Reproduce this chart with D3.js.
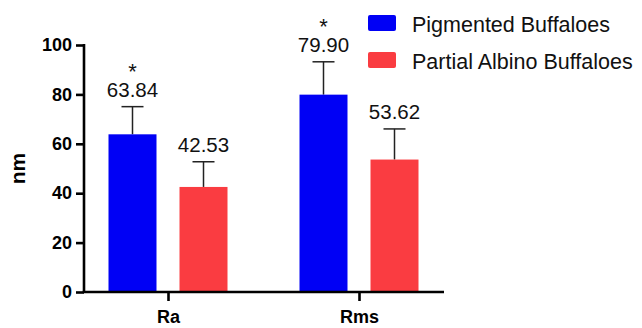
<!DOCTYPE html>
<html>
<head>
<meta charset="utf-8">
<script src="https://cdn.jsdelivr.net/npm/d3@7"></script>
<style>
  html, body { margin: 0; padding: 0; background: #fff; }
  svg { display: block; }
  text { font-family: Arial, "Liberation Sans", sans-serif; }
</style>
</head>
<body>
<svg id="chart" width="642" height="328"></svg>
<script>
// Surface roughness (nm), mean ± SD
const categories = ["Ra", "Rms"];
const seriesNames = ["Pigmented Buffaloes", "Partial Albino Buffaloes"];
const pigmented = [63.84, 79.90];
const albino = [42.53, 53.62];
const pigmentedSD = [11.2, 13.3];
const albinoSD = [10.2, 12.4];
const significant = [[true, false], [true, false]]; // per category, per series
const yTicks = [0, 20, 40, 60, 80, 100];
const colors = ["#0000f5", "#fa3c41"];

const svg = d3.select("#chart");

const axisLeft = 84, axisRight = 444;
const y = d3.scaleLinear().domain([0, 100]).range([292, 45]);
const x0 = d3.scalePoint().domain(categories).range([168, 359]);
const x1 = d3.scaleBand().domain(seriesNames).range([-59.5, 59.5]).paddingInner(0.324);

const rows = categories.map((c, i) => ({
  cat: c,
  items: [
    { name: seriesNames[0], v: pigmented[i], sd: pigmentedSD[i], sig: significant[i][0], color: colors[0] },
    { name: seriesNames[1], v: albino[i], sd: albinoSD[i], sig: significant[i][1], color: colors[1] }
  ]
}));

const g = svg.append("g");

const groups = g.selectAll("g.grp").data(rows).join("g")
  .attr("class", "grp")
  .attr("transform", d => `translate(${x0(d.cat)},0)`);

const items = groups.selectAll("g.item").data(d => d.items).join("g").attr("class", "item");
const cx = d => x1(d.name) + x1.bandwidth() / 2;

// error bars (upper whisker only)
items.append("line")
  .attr("x1", cx).attr("x2", cx)
  .attr("y1", d => y(d.v))
  .attr("y2", d => y(d.v + d.sd))
  .attr("stroke", "#222").attr("stroke-width", 1.5);
items.append("line")
  .attr("x1", d => cx(d) - 11)
  .attr("x2", d => cx(d) + 11)
  .attr("y1", d => y(d.v + d.sd))
  .attr("y2", d => y(d.v + d.sd))
  .attr("stroke", "#222").attr("stroke-width", 1.5);

// bars
items.append("rect")
  .attr("x", d => x1(d.name))
  .attr("width", x1.bandwidth())
  .attr("y", d => y(d.v))
  .attr("height", d => y(0) - y(d.v))
  .attr("fill", d => d.color);

// value labels
items.append("text")
  .attr("x", cx)
  .attr("y", d => y(d.v + d.sd) - 10)
  .attr("text-anchor", "middle")
  .attr("font-size", 20.5)
  .attr("fill", "#111")
  .text(d => d.v.toFixed(2));

// significance markers
items.filter(d => d.sig).append("text")
  .attr("x", cx)
  .attr("y", d => y(d.v + d.sd) - 10 - 18)
  .attr("text-anchor", "middle")
  .attr("font-size", 22)
  .attr("fill", "#111")
  .text("*");

// y axis
const yAxis = d3.axisLeft(y).tickValues(yTicks).tickSize(8).tickPadding(4);
const ya = svg.append("g").attr("transform", `translate(${axisLeft},0)`).call(yAxis);
ya.select(".domain").attr("stroke", "#000").attr("stroke-width", 2.6).attr("d", `M0,${y(0)}V${y(100) - 1}`);
ya.selectAll(".tick line").attr("stroke", "#000").attr("stroke-width", 2.6);
ya.selectAll(".tick text").attr("font-size", 18).attr("font-weight", "bold").attr("fill", "#000")
  .attr("font-family", "Arial, 'Liberation Sans', sans-serif");

// x axis
const xAxis = d3.axisBottom(x0).tickSize(9).tickPadding(9);
const xa = svg.append("g").attr("transform", `translate(0,${y(0)})`).call(xAxis);
xa.select(".domain").attr("stroke", "#000").attr("stroke-width", 2.6).attr("d", `M${axisLeft - 1.3},0H${axisRight}`);
xa.selectAll(".tick line").attr("stroke", "#000").attr("stroke-width", 2.6);
xa.selectAll(".tick text").attr("font-size", 18).attr("font-weight", "bold").attr("fill", "#000")
  .attr("font-family", "Arial, 'Liberation Sans', sans-serif");

// y axis title
svg.append("text")
  .attr("transform", `translate(25,${(y(0) + y(100)) / 2}) rotate(-90)`)
  .attr("text-anchor", "middle")
  .attr("font-size", 21)
  .attr("font-weight", "bold")
  .text("nm");

// legend
const legend = svg.append("g").attr("transform", "translate(368,15)");
const li = legend.selectAll("g").data(seriesNames).join("g")
  .attr("transform", (d, i) => `translate(0,${i * 37})`);
li.append("rect").attr("width", 28).attr("height", 16).attr("rx", 2)
  .attr("fill", (d, i) => colors[i]);
li.append("text").attr("x", 44).attr("y", 16.5)
  .attr("font-size", 21.5).attr("fill", "#111")
  .text(d => d);
</script>
</body>
</html>
